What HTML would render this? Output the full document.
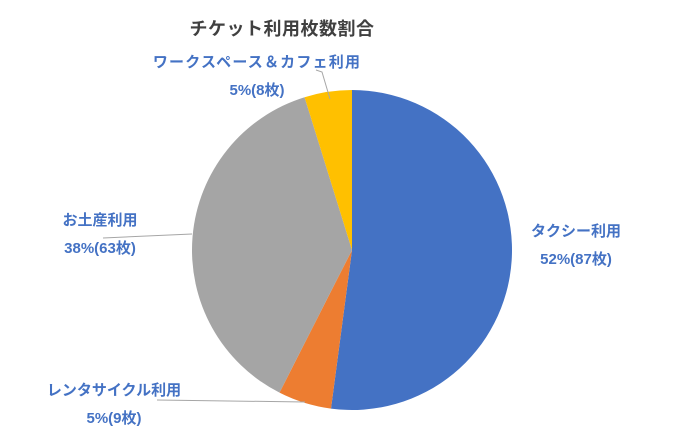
<!DOCTYPE html>
<html><head><meta charset="utf-8"><style>
html,body{margin:0;padding:0;background:#fff;}
svg{display:block;}
text{font-family:"Liberation Sans","Noto Sans CJK JP",sans-serif;}
</style></head><body>
<svg id="chart" width="700" height="446" viewBox="0 0 700 446">
<text x="282" y="35" text-anchor="middle" font-size="18" font-weight="bold" fill="#404040" letter-spacing="0.5">チケット利用枚数割合</text>
<g id="slices"></g>
<g id="labels"></g>
</svg>
<script>
const categories = ["タクシー利用","レンタサイクル利用","お土産利用","ワークスペース＆カフェ利用"];
const values = [87, 9, 63, 8];
const colors = ["#4472C4","#ED7D31","#A5A5A5","#FFC000"];
const labelPos = [[576,231],[114,390],[100,220],[257,62]];
const leaders = [null,[[157,400],[305,402]],[[103,238],[192,234]],[[316,70],[322,72],[330,99]]];
const cx=352, cy=250, r=160;
const NS="http://www.w3.org/2000/svg";
const total = values.reduce((a,b)=>a+b,0);
const sl=document.getElementById('slices'), lb=document.getElementById('labels');
let ang=-Math.PI/2;
values.forEach((v,i)=>{
  const a0=ang, a1=ang+v/total*2*Math.PI; ang=a1;
  const x0=cx+r*Math.cos(a0), y0=cy+r*Math.sin(a0), x1=cx+r*Math.cos(a1), y1=cy+r*Math.sin(a1);
  const p=document.createElementNS(NS,'path');
  p.setAttribute('d',`M${cx},${cy}L${x0},${y0}A${r},${r} 0 ${a1-a0>Math.PI?1:0} 1 ${x1},${y1}Z`);
  p.setAttribute('fill',colors[i]);
  
  
  sl.appendChild(p);
  if(leaders[i]){
    const l=document.createElementNS(NS,'polyline');
    l.setAttribute('points',leaders[i].map(q=>q.join(',')).join(' '));
    l.setAttribute('fill','none');
    l.setAttribute('stroke','#A6A6A6');l.setAttribute('stroke-width','1');
    
    
    lb.appendChild(l);
  }
  const [lx,ly]=labelPos[i];
  const t1=document.createElementNS(NS,'text');
  t1.setAttribute('x',lx);t1.setAttribute('y',ly+5);t1.setAttribute('text-anchor','middle');
  t1.setAttribute('font-size','15');t1.setAttribute('font-weight','bold');t1.setAttribute('fill','#4472C4');
  if(i===3) t1.setAttribute('letter-spacing','1.2');
  t1.textContent=categories[i];
  
  
  lb.appendChild(t1);
  const t2=document.createElementNS(NS,'text');
  t2.setAttribute('x',lx);t2.setAttribute('y',ly+33);t2.setAttribute('text-anchor','middle');
  t2.setAttribute('font-size','15');t2.setAttribute('font-weight','bold');t2.setAttribute('fill','#4472C4');
  t2.textContent=Math.round(v/total*100)+'%('+v+'枚)';
  
  
  lb.appendChild(t2);
});
</script>
</body></html>
